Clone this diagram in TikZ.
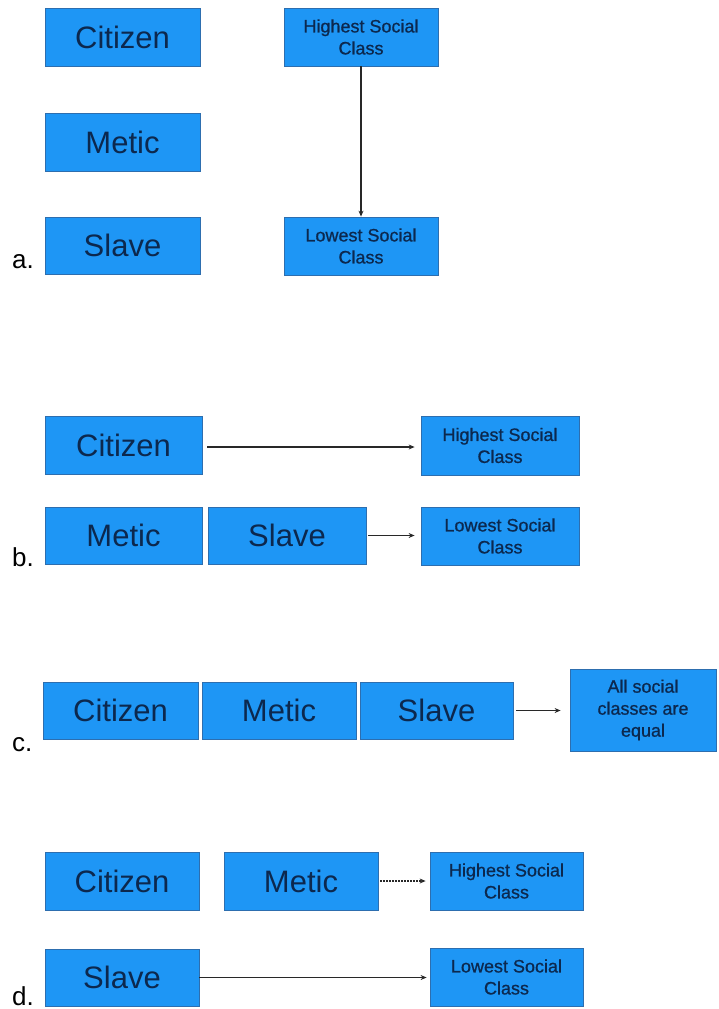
\documentclass[tikz,border=0pt]{standalone}
\usepackage{fontspec}
\setmainfont{Liberation Sans}
\newfontfamily\smallboldish[FakeBold=0.8]{Liberation Sans}
\usetikzlibrary{arrows.meta}
\definecolor{boxfill}{RGB}{30,150,245}
\definecolor{boxedge}{RGB}{45,110,175}
\definecolor{boxtext}{RGB}{12,40,78}
\definecolor{arrowcol}{RGB}{40,40,40}
\tikzset{
  clsbox/.style={rectangle, fill=boxfill, draw=boxedge, line width=0.8pt, inner sep=0pt, text=boxtext, align=center},
  bigbox/.style={clsbox, font=\fontsize{31}{36}\selectfont},
  smallbox/.style={clsbox, font=\smallboldish\fontsize{18}{22}\selectfont},
  conn/.style={draw=arrowcol, line width=1.3pt, -{Stealth[length=6pt,width=5pt]}},
  tag/.style={anchor=base west, inner sep=0pt, font=\fontsize{26}{30}\selectfont, text=black}
}
\begin{document}
\begin{tikzpicture}[x=1pt,y=-1pt]
\useasboundingbox (0,0) rectangle (718,1009);
% ---- a ----
\node[bigbox, minimum width=155pt, minimum height=58pt] (aC) at (122.5,37) {Citizen};
\node[bigbox, minimum width=155pt, minimum height=58pt] (aM) at (122.5,142) {Metic};
\node[bigbox, minimum width=155pt, minimum height=57pt] (aS) at (122.5,245.5) {Slave};
\node[smallbox, minimum width=154pt, minimum height=58pt] (aH) at (361,37) {Highest Social\\Class};
\node[smallbox, minimum width=154pt, minimum height=58pt] (aL) at (361,246) {Lowest Social\\Class};
\draw[conn] (aH.south) -- (aL.north);
\node[tag] (la) at (12,268) {a.};
% ---- b ----
\node[bigbox, minimum width=157pt, minimum height=58pt] (bC) at (123.5,445) {Citizen};
\node[smallbox, minimum width=158pt, minimum height=59pt] (bH) at (500,445.5) {Highest Social\\Class};
\node[bigbox, minimum width=157pt, minimum height=57pt] (bM) at (123.5,535.5) {Metic};
\node[bigbox, minimum width=158pt, minimum height=57pt] (bS) at (287,535.5) {Slave};
\node[smallbox, minimum width=158pt, minimum height=58pt] (bL) at (500,536) {Lowest Social\\Class};
\draw[conn, shorten <=5pt, shorten >=6pt] (bC.east |- 0,447) -- (bH.west |- 0,447);
\draw[conn, shorten <=2pt, shorten >=6pt] (bS.east) -- (bL.west |- bS.east);
\node[tag] (lb) at (12,566) {b.};
% ---- c ----
\node[bigbox, minimum width=155pt, minimum height=57pt] (cC) at (120.5,710.5) {Citizen};
\node[bigbox, minimum width=154pt, minimum height=57pt] (cM) at (279,710.5) {Metic};
\node[bigbox, minimum width=153pt, minimum height=57pt] (cS) at (436.5,710.5) {Slave};
\node[smallbox, minimum width=146pt, minimum height=82pt] (cA) at (643,710) {All social\\classes are\\equal};
\draw[conn, shorten <=3pt, shorten >=9pt] (cS.east) -- (cA.west |- cS.east);
\node[tag] (lc) at (12,751) {c.};
% ---- d ----
\node[bigbox, minimum width=154pt, minimum height=58pt] (dC) at (122,881) {Citizen};
\node[bigbox, minimum width=154pt, minimum height=58pt] (dM) at (301,881) {Metic};
\node[smallbox, minimum width=153pt, minimum height=58pt] (dH) at (506.5,881) {Highest Social\\Class};
\node[bigbox, minimum width=154pt, minimum height=57pt] (dS) at (122,977.5) {Slave};
\node[smallbox, minimum width=153pt, minimum height=58pt] (dL) at (506.5,977) {Lowest Social\\Class};
\draw[conn, dash pattern=on 2pt off 1pt, shorten <=2pt, shorten >=4pt] (dM.east) -- (dH.west);
\draw[conn, shorten >=3pt] (dS.east) -- (dL.west |- dS.east);
\node[tag] (ld) at (12,1005) {d.};
\end{tikzpicture}
\end{document}
